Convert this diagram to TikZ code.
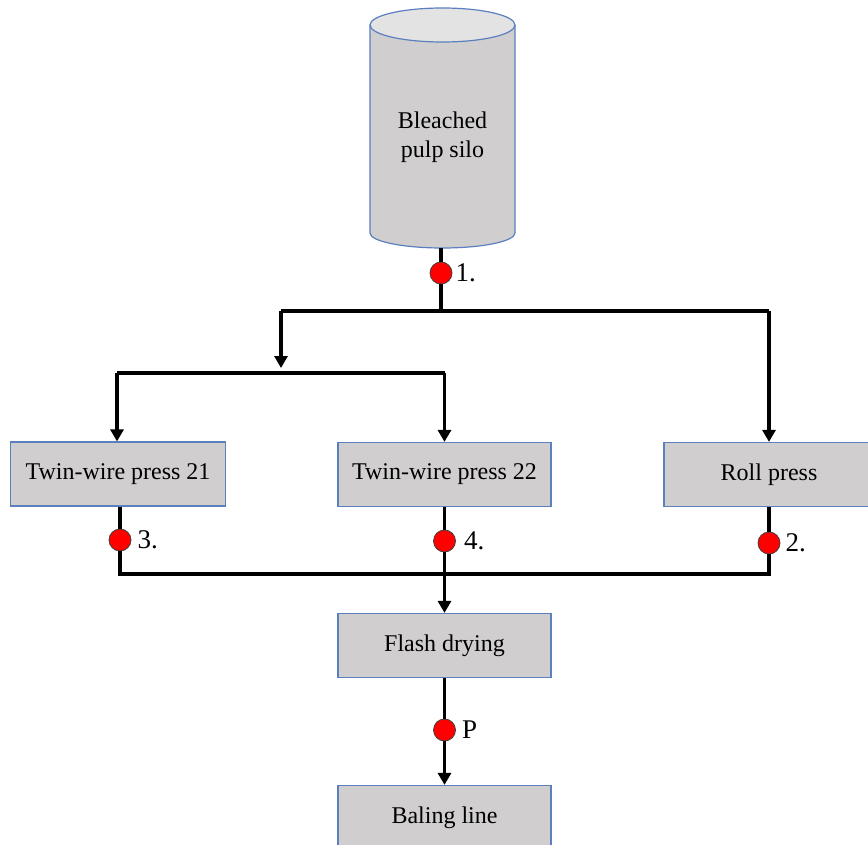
\documentclass[tikz,border=0pt]{standalone}
\usepackage{fontspec}
\setmainfont{Liberation Serif}
\usetikzlibrary{arrows.meta}
\definecolor{boxgray}{HTML}{D0CECE}
\definecolor{boxline}{HTML}{5B7FBF}
\definecolor{silotop}{HTML}{E3E3E3}
\definecolor{dotred}{HTML}{FF0000}

\begin{document}
\begin{tikzpicture}[x=1pt, y=-1pt,
    box/.style = {draw=boxline, fill=boxgray, line width=1.2pt, minimum width=213pt, minimum height=64pt, inner sep=0pt, font=\fontsize{24}{28}\selectfont},
    flow/.style = {line width=3.2pt},
    arr/.style = {flow, -{Triangle[width=13pt, length=12pt]}},
    tap/.style = {draw=black!75, fill=dotred, circle, line width=0.8pt, minimum size=22pt, inner sep=0pt},
    lab/.style = {anchor=west, inner sep=0pt, font=\fontsize{27}{30}\selectfont}]
    \useasboundingbox (0,0) rectangle (868,845);
    % silo
    \fill [boxgray] (370,25) -- (370,233) arc [start angle=180, end angle=360, x radius=72.5pt, y radius=15pt] -- (515,25) -- cycle;
    \draw [boxline, line width=1.2pt] (370,25) -- (370,233) arc [start angle=180, end angle=360, x radius=72.5pt, y radius=15pt] -- (515,25);
    \filldraw [fill=silotop, draw=boxline, line width=1.2pt] (442.5,25) ellipse [x radius=72.5pt, y radius=17pt];
    \node [align=center, font=\fontsize{24}{29}\selectfont] (silo) at (442.5,137) {Bleached\\pulp silo};
    % boxes
    \node [box, minimum width=215pt] (tw21) at (118,474) {Twin-wire press 21};
    \node [box] (tw22) at (444.5,474.5) {Twin-wire press 22};
    \node [box, minimum width=210pt] (roll) at (769,474.5) {Roll press};
    \node [box] (flash) at (444.5,645.5) {Flash drying};
    \node [box] (baling) at (444.5,817.5) {Baling line};
    % sample points
    \node [tap] (d1) at (441,273) {};
    \node [tap] (d3) at (120,540) {};
    \node [tap] (d4) at (444.5,541) {};
    \node [tap] (d2) at (769,543) {};
    \node [tap] (dp) at (444.5,730) {};
    \node [lab] (l1) at ([xshift=3pt]d1.east) {1.};
    \node [lab] (l3) at ([xshift=6pt]d3.east) {3.};
    \node [lab] (l4) at ([xshift=8pt]d4.east) {4.};
    \node [lab] (l2) at ([xshift=5pt]d2.east) {2.};
    \node [lab] (lp) at ([xshift=6pt]dp.east) {P};
    % junctions
    \coordinate (siloout) at (441,248);
    \coordinate (j1) at (441,311);
    \coordinate (jl) at (281,311);
    \coordinate (jr) at (769,311);
    \coordinate (jla) at (281,368);
    \coordinate (sl) at (117,373);
    \coordinate (sr) at (444.5,373);
    \coordinate (cl) at (120,574);
    \coordinate (cr) at (769,574);
    % connectors
    \draw [flow] (siloout) -- (d1) -- (j1);
    \draw [flow] (jl) -- (jr);
    \draw [arr] (jl) -- (jla);
    \draw [flow] (sl) -- (sr);
    \draw [arr] (sl) -- (sl |- tw21.north);
    \draw [arr] (sr) -- (tw22.north);
    \draw [arr] (jr) -- (roll.north);
    \draw [flow] (cl |- tw21.south) -- (d3) -- (cl) -- (cr) -- (d2) -- (roll.south);
    \draw [arr] (tw22.south) -- (d4) -- (flash.north);
    \draw [arr] (flash.south) -- (dp) -- (baling.north);
\end{tikzpicture}
\end{document}
